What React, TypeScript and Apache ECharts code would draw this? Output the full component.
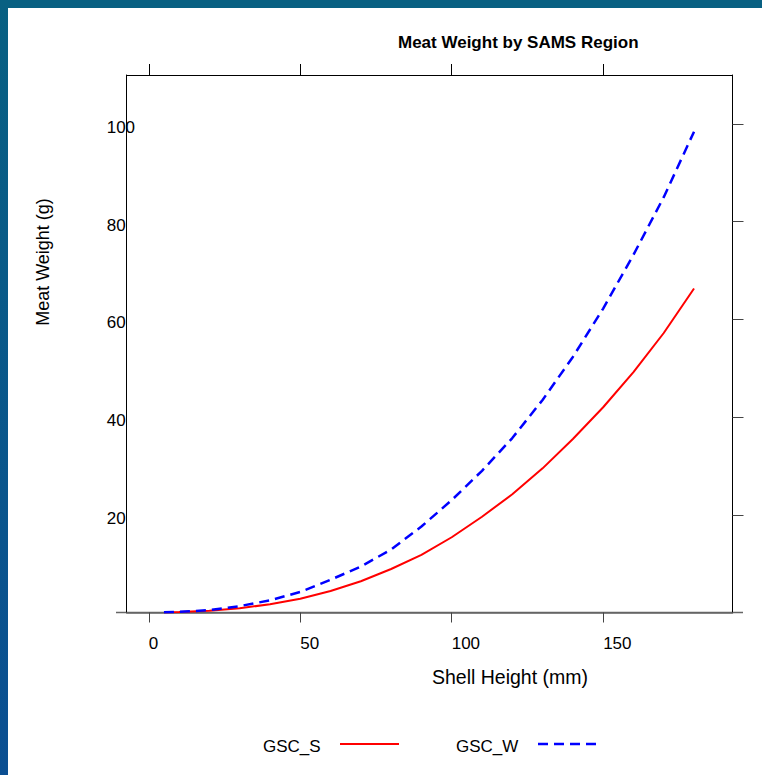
import React, { useEffect, useRef } from "react";
import * as echarts from "echarts";

const shellHeight = [5, 10, 20, 30, 40, 50, 60, 70, 80, 90, 100, 110, 120, 130, 140, 150, 160, 170, 180];
const gscS = [0.02, 0.08, 0.35, 0.85, 1.7, 2.8, 4.4, 6.4, 8.9, 11.8, 15.4, 19.6, 24.2, 29.5, 35.5, 42.0, 49.2, 57.2, 66.3];
const gscW = [0.03, 0.12, 0.5, 1.3, 2.5, 4.2, 6.7, 9.4, 12.9, 17.6, 23.0, 29.0, 35.7, 43.5, 52.3, 62.2, 73.2, 85.0, 98.4];
const xTicks = [0, 50, 100, 150];
const yTicks = [20, 40, 60, 80, 100];
const seriesNames = ["GSC_S", "GSC_W"];

const FONT = "'Liberation Sans', Arial, sans-serif";

export default function App() {
  const ref = useRef<HTMLDivElement>(null);
  useEffect(() => {
    if (!ref.current) return;
    const chart = echarts.init(ref.current, null, { renderer: "svg" });
    const pairs = (ys: number[]) => shellHeight.map((x, i) => [x, ys[i]]);
    const gridL = 126.7, gridR = 732.5, gridT = 75, gridB = 612.5;
    chart.setOption({
      animation: false,
      backgroundColor: "#ffffff",
      title: {
        text: "Meat Weight by SAMS Region",
        left: 398,
        top: 34,
        padding: 0,
        textStyle: { fontFamily: FONT, fontSize: 17, fontWeight: "bold", color: "#000" },
      },
      grid: { left: gridL, right: 762 - gridR, top: gridT, bottom: 775 - gridB, containLabel: false },
      xAxis: [
        {
          type: "value",
          position: "bottom",
          min: -7.3,
          max: 192.7,
          axisLine: { show: true, onZero: false, lineStyle: { color: "#666", width: 1.5 } },
          axisTick: { show: true, length: 10, customValues: xTicks, lineStyle: { color: "#444", width: 1 } },
          axisLabel: {
            show: true,
            customValues: xTicks,
            align: "left",
            margin: 22,
            fontFamily: FONT,
            fontSize: 17,
            color: "#000",
          },
          splitLine: { show: false },
        },
        {
          type: "value",
          position: "top",
          min: -7.3,
          max: 192.7,
          axisLine: { show: true, onZero: false, lineStyle: { color: "#000", width: 1 } },
          axisTick: { show: true, length: 11, customValues: xTicks, lineStyle: { color: "#000", width: 1 } },
          axisLabel: { show: false },
          splitLine: { show: false },
        },
      ],
      yAxis: [
        {
          type: "value",
          position: "left",
          min: 0,
          max: 110,
          axisLine: { show: true, onZero: false, lineStyle: { color: "#000", width: 1 } },
          axisTick: { show: false },
          axisLabel: {
            show: true,
            customValues: yTicks,
            align: "left",
            verticalAlign: "top",
            lineHeight: 7,
            margin: 20,
            fontFamily: FONT,
            fontSize: 17,
            color: "#000",
          },
          splitLine: { show: false },
        },
        {
          type: "value",
          position: "right",
          min: 0,
          max: 110,
          axisLine: { show: true, onZero: false, lineStyle: { color: "#000", width: 1 } },
          axisTick: { show: true, length: 11, customValues: yTicks, lineStyle: { color: "#444", width: 1 } },
          axisLabel: { show: false },
          splitLine: { show: false },
        },
      ],
      series: [
        {
          name: seriesNames[0],
          type: "line",
          xAxisIndex: 0,
          yAxisIndex: 0,
          data: pairs(gscS),
          showSymbol: false,
          symbol: "none",
          smooth: false,
          lineStyle: { color: "#ff0000", width: 2 },
        },
        {
          name: seriesNames[1],
          type: "line",
          xAxisIndex: 0,
          yAxisIndex: 0,
          data: pairs(gscW),
          showSymbol: false,
          symbol: "none",
          smooth: false,
          lineStyle: { color: "#0000ff", width: 2.5, type: [10, 6] },
        },
      ],
      graphic: [
        {
          type: "rect",
          shape: { x: 0, y: 0, width: 762, height: 8 },
          style: { fill: "#086082" },
          silent: true,
        },
        {
          type: "rect",
          shape: { x: 0, y: 0, width: 8, height: 775 },
          style: {
            fill: new echarts.graphic.LinearGradient(0, 0, 0, 1, [
              { offset: 0, color: "#086082" },
              { offset: 1, color: "#0b4f92" },
            ]),
          },
          silent: true,
        },
        {
          type: "line",
          shape: { x1: 116, y1: gridB, x2: 743, y2: gridB },
          style: { stroke: "#666", lineWidth: 1.5 },
          silent: true,
        },
        {
          type: "text",
          x: 43,
          y: 262,
          rotation: Math.PI / 2,
          style: {
            text: "Meat Weight (g)",
            fontFamily: FONT,
            fontSize: 18,
            fill: "#000",
            align: "center",
            verticalAlign: "middle",
          },
        },
        {
          type: "text",
          x: 510,
          y: 677,
          style: {
            text: "Shell Height (mm)",
            fontFamily: FONT,
            fontSize: 19.5,
            fill: "#000",
            align: "center",
            verticalAlign: "middle",
          },
        },
        {
          type: "text",
          x: 263,
          y: 746,
          style: { text: seriesNames[0], fontFamily: FONT, fontSize: 17, fill: "#000", align: "left", verticalAlign: "middle" },
        },
        {
          type: "line",
          shape: { x1: 340, y1: 744, x2: 399, y2: 744 },
          style: { stroke: "#ff0000", lineWidth: 2 },
        },
        {
          type: "text",
          x: 456,
          y: 746,
          style: { text: seriesNames[1], fontFamily: FONT, fontSize: 17, fill: "#000", align: "left", verticalAlign: "middle" },
        },
        {
          type: "line",
          shape: { x1: 538, y1: 744, x2: 597, y2: 744 },
          style: { stroke: "#0000ff", lineWidth: 2.5, lineDash: [10, 6] },
        },
      ],
    });
    return () => chart.dispose();
  }, []);
  return (
    <div style={{ position: "absolute", left: 0, top: 0, width: 762, height: 775 }}>
      <div ref={ref} style={{ width: 762, height: 775 }} />
    </div>
  );
}
